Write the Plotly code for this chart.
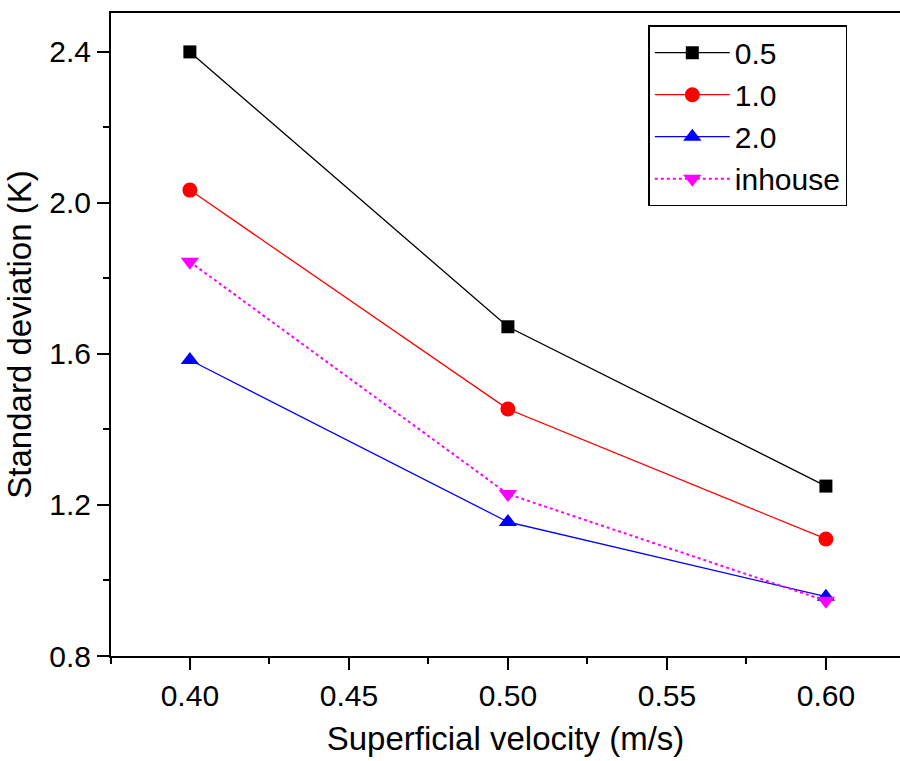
import plotly.graph_objects as go

velocity = [0.40, 0.50, 0.60]
series_names = ["0.5", "1.0", "2.0", "inhouse"]
sd_05 = [2.40, 1.672, 1.250]
sd_10 = [2.034, 1.454, 1.110]
sd_20 = [1.584, 1.155, 0.957]
sd_inhouse = [1.844, 1.229, 0.946]

styles = [
    dict(color="#000000", symbol="square", size=13, dash="solid"),
    dict(color="#ff0000", symbol="circle", size=15, dash="solid"),
    dict(color="#0000ff", symbol="triangle-up", size=16, dash="solid"),
    dict(color="#ff00ff", symbol="triangle-down", size=16, dash="dot"),
]
data = [sd_05, sd_10, sd_20, sd_inhouse]

fig = go.Figure()
for name, ys, st in zip(series_names, data, styles):
    fig.add_trace(go.Scatter(
        x=velocity, y=ys, name=name, mode="lines+markers",
        line=dict(color=st["color"], width=1.3 if st["dash"] == "solid" else 2, dash=st["dash"]),
        marker=dict(color=st["color"], symbol=st["symbol"], size=st["size"]),
    ))

font = "Liberation Sans, Arial, sans-serif"
fig.update_layout(
    width=900, height=761,
    margin=dict(l=111, r=0, t=13, b=105),
    paper_bgcolor="white", plot_bgcolor="white",
    font=dict(family=font, color="black"),
    showlegend=True,
    legend=dict(
        x=0.681, y=0.981, xanchor="left", yanchor="top",
        bordercolor="black", borderwidth=1.5, bgcolor="white",
        font=dict(size=30, family=font),
        itemwidth=75, tracegroupgap=0,
    ),
    xaxis=dict(
        range=[0.3752, 0.6233], tickvals=[0.40, 0.45, 0.50, 0.55, 0.60],
        ticktext=["0.40", "0.45", "0.50", "0.55", "0.60"],
        showline=True, linecolor="black", linewidth=2, mirror=True,
        ticks="outside", ticklen=12, tickwidth=2, tickcolor="black",
        minor=dict(tickvals=[0.3752, 0.425, 0.475, 0.525, 0.575], ticks="outside", ticklen=6, tickwidth=2, tickcolor="black"),
        showgrid=False, zeroline=False,
        tickfont=dict(size=30),
        title=dict(text="Superficial velocity (m/s)", font=dict(size=33), standoff=16),
    ),
    yaxis=dict(
        range=[0.8, 2.503], tickvals=[0.8, 1.2, 1.6, 2.0, 2.4],
        ticktext=["0.8", "1.2", "1.6", "2.0", "2.4"],
        showline=True, linecolor="black", linewidth=2, mirror=False,
        ticks="outside", ticklen=12, tickwidth=2, tickcolor="black",
        minor=dict(tickvals=[1.0, 1.4, 1.8, 2.2], ticks="outside", ticklen=6, tickwidth=2, tickcolor="black"),
        showgrid=False, zeroline=False,
        tickfont=dict(size=30),
        title=dict(text="Standard deviation (K)", font=dict(size=33), standoff=8),
    ),
)

fig.write_html("out.html")
